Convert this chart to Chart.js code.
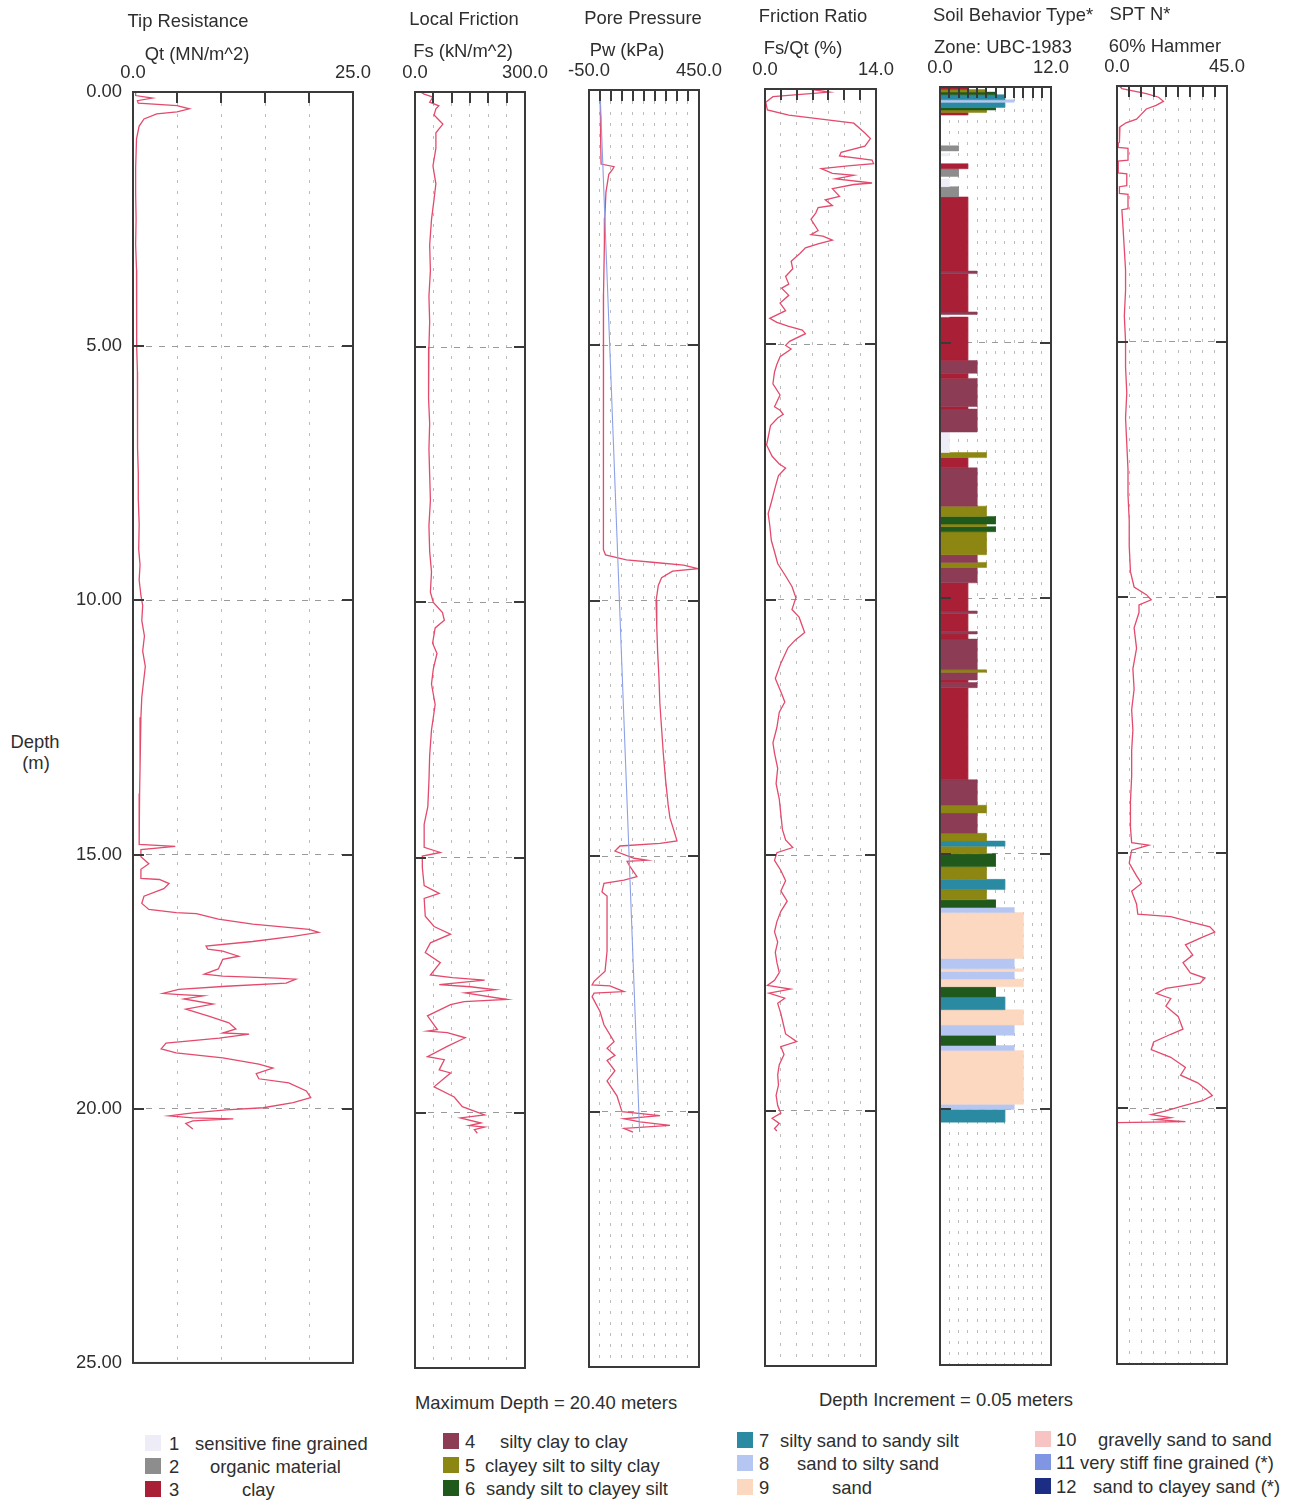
<!DOCTYPE html>
<html>
<head>
<meta charset="utf-8">
<script src="https://cdn.jsdelivr.net/npm/chart.js@4.4.1/dist/chart.umd.min.js"></script>
<style>
  html, body { margin: 0; padding: 0; background: #ffffff; }
  body { width: 1291px; height: 1502px; position: relative; overflow: hidden;
         font-family: "Liberation Sans", Arial, Helvetica, sans-serif; color: #2e2e2e; }
  canvas { position: absolute; top: 0; }
  .txt { position: absolute; white-space: nowrap; font-size: 18.4px; line-height: 21px; transform: translate(-50%, -50%); }
  .lft { position: absolute; white-space: nowrap; font-size: 18.4px; line-height: 21px; transform: translateY(-50%); }
  .sw  { position: absolute; width: 16px; height: 16px; transform: translateY(-50%); }
</style>
</head>
<body>
<script>
// ---------------- CPT sounding data (depth in metres) ----------------

// Tip resistance Qt (MN/m^2)
const qtDepth = [0.00,0.07,0.12,0.17,0.22,0.27,0.33,0.39,0.43,0.53,0.67,0.92,1.5,2.0,2.5,3.0,3.5,4.0,4.5,5.0,5.5,6.0,6.5,7.0,7.5,8.0,8.5,9.0,9.3,9.6,9.9,10.1,10.4,10.7,11.0,11.3,11.6,11.9,12.3,12.8,13.3,13.8,14.3,14.75,
  14.80,14.84,14.90,15.04,15.18,15.29,15.47,15.49,15.57,15.67,15.82,15.96,16.08,16.14,16.16,16.27,16.37,16.47,16.53,16.61,16.71,16.80,16.86,16.90,17.00,17.06,17.25,17.35,17.39,17.43,17.45,17.53,17.59,17.65,17.73,17.75,17.78,17.84,17.94,18.04,18.18,18.31,18.43,18.51,18.53,18.61,18.71,18.82,18.90,19.00,19.12,19.20,19.31,19.41,19.49,19.65,19.78,19.88,19.98,20.02,20.08,20.14,20.18,20.20,20.24,20.29,20.40];
const qtValue = [0.3,0.3,2.2,0.5,0.6,5.0,6.4,5.0,2.7,1.25,0.7,0.4,0.3,0.3,0.35,0.3,0.4,0.35,0.45,0.45,0.5,0.5,0.55,0.5,0.6,0.6,0.7,0.65,0.8,0.7,0.9,1.1,1.0,1.3,1.1,1.4,1.2,1.0,0.9,0.8,0.8,0.75,0.7,0.7,
  0.7,4.8,0.9,0.9,1.8,0.9,0.9,3.0,4.1,3.5,1.25,1.0,1.8,4.9,7.2,9.7,13.6,20.0,21.1,18.2,13.6,8.3,8.5,10.2,12.0,10.2,9.7,8.1,10.2,16.3,18.5,17.4,10.6,5.2,3.4,4.9,8.0,5.8,9.1,6.0,8.6,10.9,11.7,10.2,13.2,9.8,3.75,3.2,4.9,10.2,14.3,15.9,14.0,14.3,17.7,19.7,20.2,18.2,14.8,10.6,6.8,4.1,6.8,11.4,6.8,6.0,6.8];

// Local friction Fs (kN/m^2)
const fsDepth = [0.00,0.04,0.10,0.20,0.27,0.33,0.45,0.63,0.80,1.10,1.45,1.80,2.10,2.50,3.00,3.50,4.00,4.50,5.00,5.50,6.00,6.50,7.00,7.50,8.00,8.50,9.00,9.40,9.80,10.00,10.20,10.35,10.50,10.80,11.00,11.30,11.60,12.00,12.50,13.00,13.50,14.00,14.35,14.80,14.90,14.97,15.20,15.55,15.70,15.80,16.15,16.35,16.50,16.67,16.86,17.06,17.30,17.35,17.40,17.49,17.53,17.59,17.65,17.78,17.82,17.88,18.10,18.37,18.40,18.43,18.53,18.70,18.90,18.96,19.16,19.22,19.49,19.69,19.88,20.04,20.10,20.20,20.25,20.28,20.33,20.40];
const fsValue = [15,25,49,40,65,57,52,76,57,57,49,57,52,45,40,42,38,40,38,36,38,40,38,40,42,38,40,45,42,50,75,80,55,48,60,50,45,55,45,40,38,35,25,25,69,20,20,25,66,25,28,52,97,42,28,69,42,102,190,66,151,219,137,251,134,97,34,61,34,88,137,88,34,80,66,97,52,107,129,190,124,180,148,190,162,170];

// Pore pressure Pw (kPa) and hydrostatic line
const pwDepth = [0.00,0.50,1.00,1.45,1.50,1.55,1.65,2.00,2.50,3.00,4.00,5.00,6.00,7.00,8.00,9.00,9.10,9.20,9.25,9.30,9.37,9.42,9.55,9.70,10.00,10.50,11.00,11.50,12.00,12.50,13.00,13.50,14.00,14.25,14.50,14.70,14.75,14.80,14.90,15.04,15.08,15.10,15.20,15.40,15.47,15.53,15.70,15.78,16.20,16.86,17.25,17.45,17.52,17.54,17.65,17.68,17.75,18.04,18.30,18.63,18.76,18.90,19.00,19.20,19.40,19.69,20.00,20.08,20.14,20.20,20.27,20.33,20.40];
const pwValue = [0,2,3,5,64,58,40,27,22,20,16,15,14,15,16,18,25,120,250,380,445,330,280,265,255,258,262,268,272,280,288,298,310,318,336,350,273,91,68,155,214,123,136,168,109,18,9,32,32,32,23,-27,-36,45,109,-27,-36,0,18,64,32,68,32,68,32,77,100,273,109,182,318,109,150];
const u0Depth = [0.0, 20.4];
const u0Value = [0, 180];

// Friction ratio Fs/Qt (%)
const frDepth = [0.00,0.06,0.15,0.26,0.41,0.51,0.67,0.86,0.97,1.12,1.24,1.31,1.39,1.46,1.50,1.56,1.65,1.69,1.76,1.84,1.87,1.95,2.10,2.17,2.28,2.32,2.43,2.55,2.77,2.85,2.88,2.96,3.03,3.11,3.22,3.37,3.52,3.67,3.82,3.90,4.04,4.19,4.34,4.49,4.57,4.64,4.72,4.79,4.94,5.02,5.09,5.24,5.39,5.54,5.77,5.99,6.22,6.29,6.37,6.44,6.59,6.97,7.19,7.34,7.42,7.57,7.79,8.09,8.31,8.54,8.84,9.06,9.29,9.51,9.74,9.96,10.19,10.34,10.64,10.79,10.94,11.24,11.54,11.80,12.00,12.20,12.50,12.80,13.00,13.30,13.60,13.90,14.20,14.50,14.70,14.85,14.95,15.10,15.30,15.50,15.70,15.90,16.10,16.30,16.50,16.70,16.90,17.10,17.30,17.45,17.55,17.62,17.70,17.80,17.90,18.10,18.30,18.50,18.65,18.75,18.90,19.10,19.30,19.50,19.70,19.90,20.05,20.15,20.25,20.35,20.40];
const frValue = [5.5,8.1,1.0,0.1,0.3,3.0,11.2,12.6,13.3,12.6,9.6,9.4,13.5,13.7,10.8,7.1,8.5,11.2,8.9,13.5,11.2,8.5,9.4,7.6,8.5,6.7,6.4,5.8,6.7,5.8,7.3,8.5,6.7,5.1,4.4,3.3,3.5,2.6,3.0,2.1,3.0,1.9,2.6,0.6,1.5,2.9,4.7,5.1,3.1,2.6,3.3,1.9,1.5,1.2,1.0,1.9,1.2,1.9,2.3,1.6,0.7,0.2,0.9,1.8,2.6,1.7,1.3,0.8,0.4,0.6,0.8,1.2,1.6,2.5,3.4,3.9,3.4,4.3,5.0,3.8,2.9,2.0,1.3,2.0,2.5,1.8,1.5,1.0,1.2,1.6,1.4,1.8,2.0,2.2,2.6,3.5,1.5,1.2,2.0,2.6,2.0,2.8,2.0,1.5,1.2,1.6,1.3,1.5,1.8,1.2,0.3,3.2,0.5,2.5,1.6,2.0,2.3,2.6,4.0,2.0,2.4,1.8,1.6,1.7,1.4,1.6,2.0,0.9,1.8,1.2,1.5];

// SPT N (60% hammer)
const sptDepth = [0.00,0.05,0.15,0.22,0.30,0.38,0.45,0.55,0.65,0.72,0.80,1.00,1.10,1.12,1.20,1.22,1.45,1.47,1.70,1.72,1.95,1.97,2.10,2.12,2.40,2.42,2.80,3.20,3.60,4.00,4.50,5.00,5.50,6.00,6.50,7.00,7.50,8.00,8.50,9.00,9.50,9.80,9.95,10.05,10.15,10.30,10.60,11.00,11.40,11.80,12.20,12.60,13.00,13.50,14.00,14.50,14.80,14.85,14.95,15.20,15.45,15.60,15.75,16.00,16.20,16.25,16.35,16.45,16.55,16.65,16.80,17.00,17.15,17.35,17.45,17.55,17.65,17.75,17.85,18.00,18.20,18.45,18.55,18.70,18.85,19.00,19.20,19.35,19.50,19.65,19.75,19.85,19.95,20.05,20.12,20.18,20.22,20.26,20.28];
const sptValue = [1,2,12,17,19,16,12,10,8,3.7,1.2,1,1,0.5,0.5,4.5,4.5,0.5,0.5,4,4,1,1,4.5,4.5,2,2.5,3,3.5,3.5,3,3.5,3.5,4,3.5,4,4.5,4.5,5,5,5.5,7,12,14,9,9,7,8,6.5,7,6,6.5,6,6,5.5,5.5,6,13,6,5,8,10,6,8,8.5,22,30,38,40,35,28,31,27,30,36,34,20,16,22,20,25,27,22,15,14,22,28,26,33,37,39,35,27,20,14,22,16,28,0];

// Soil behaviour type layers (UBC-1983 zones)
const sbtTop    = [0.00,0.05,0.10,0.15,0.25,0.30,0.40,0.45,0.50,1.15,1.30,1.50,1.60,1.80,1.95,2.15,3.60,3.65,4.40,4.45,4.50,5.35,5.60,5.70,6.25,6.30,6.75,7.15,7.25,7.45,8.20,8.40,8.55,8.60,8.70,9.15,9.30,9.40,9.70,10.25,10.30,10.65,10.70,10.80,11.40,11.45,11.60,11.65,11.75,13.55,14.05,14.20,14.60,14.75,14.85,15.00,15.25,15.50,15.70,15.90,16.05,16.15,17.05,17.25,17.30,17.45,17.60,17.80,18.05,18.35,18.55,18.75,18.85,19.90,20.00];
const sbtBottom = [0.05,0.10,0.15,0.25,0.30,0.40,0.45,0.50,0.55,1.25,1.35,1.60,1.75,1.95,2.15,3.60,3.65,4.40,4.45,4.50,5.35,5.60,5.70,6.25,6.30,6.75,7.15,7.25,7.45,8.20,8.40,8.55,8.60,8.70,9.15,9.30,9.40,9.70,10.25,10.30,10.65,10.70,10.80,11.40,11.45,11.60,11.65,11.75,13.55,14.05,14.20,14.60,14.75,14.85,15.00,15.25,15.50,15.70,15.90,16.05,16.15,17.05,17.25,17.30,17.45,17.60,17.80,18.05,18.35,18.55,18.75,18.85,19.90,20.00,20.25];
const sbtZone   = [3,5,6,7,8,7,6,5,3,2,1,3,2,1,2,3,4,3,4,1,3,4,3,4,3,4,1,5,3,4,5,6,5,6,5,4,5,4,3,4,3,4,3,4,5,4,3,4,3,4,5,4,5,7,5,6,5,7,5,6,8,9,8,9,8,9,6,7,9,8,6,8,9,8,7];

const zoneNames = ['sensitive fine grained','organic material','clay','silty clay to clay','clayey silt to silty clay','sandy silt to clayey silt','silty sand to sandy silt','sand to silty sand','sand','gravelly sand to sand','very stiff fine grained (*)','sand to clayey sand (*)'];
const zoneColors = ['#eeecf7','#8d8d8d','#a91f36','#8c3d55','#8c8612','#1f5a1c','#2a8aa2','#b6c6f2','#fcd8c0','#f7c3c3','#8096e2','#1c2d84'];

// Column headers
const panelTitles = [
  ['Tip Resistance', 'Qt (MN/m^2)'],
  ['Local Friction', 'Fs (kN/m^2)'],
  ['Pore Pressure', 'Pw (kPa)'],
  ['Friction Ratio', 'Fs/Qt (%)'],
  ['Soil Behavior Type*', 'Zone: UBC-1983'],
  ['SPT N*', '60% Hammer']
];
const depthStep = 0.05;

// ---------------- drawing ----------------
const FONT = '"Liberation Sans", Arial, Helvetica, sans-serif';
const INK = '#2e2e2e';
const TRACE = 'rgb(228, 74, 108)';
const FONT_SIZE = 18.4;
Chart.defaults.font.family = FONT;

function toPoints(values, depths) {
  return depths.map((d, i) => ({ x: values[i], y: d }));
}
function traceSet(values, depths, color, width) {
  return { data: toPoints(values, depths), showLine: true, borderColor: color,
           borderWidth: width, pointRadius: 0, fill: false };
}

// box outline and short inward tick marks
const logFrame = {
  id: 'logFrame',
  afterDraw(chart) {
    const { ctx, chartArea: a } = chart;
    const xs = chart.scales.x, ys = chart.scales.y;
    ctx.save();
    ctx.strokeStyle = '#3a3a3a';
    ctx.lineWidth = 2;
    xs.ticks.forEach((t, i) => {
      if (i === 0 || i === xs.ticks.length - 1) return;
      const px = Math.round(xs.getPixelForValue(t.value));
      ctx.beginPath(); ctx.moveTo(px, a.top); ctx.lineTo(px, a.top + 11); ctx.stroke();
    });
    ys.ticks.forEach((t, i) => {
      if (i === 0 || i === ys.ticks.length - 1) return;
      const py = Math.round(ys.getPixelForValue(t.value));
      ctx.beginPath(); ctx.moveTo(a.left, py); ctx.lineTo(a.left + 11, py); ctx.stroke();
      ctx.beginPath(); ctx.moveTo(a.right - 11, py); ctx.lineTo(a.right, py); ctx.stroke();
    });
    ctx.strokeRect(a.left, a.top, a.right - a.left, a.bottom - a.top);
    ctx.restore();
  }
};

function logPanel(p) {
  const H = 1385, padR = 30;
  const padL = p.depthLabels ? 72 : 30;
  const w = p.right - p.left + padL + padR;
  const canvas = document.createElement('canvas');
  canvas.width = w; canvas.height = H;
  canvas.style.left = (p.left - padL) + 'px';
  canvas.style.width = w + 'px'; canvas.style.height = H + 'px';
  document.body.appendChild(canvas);
  new Chart(canvas, {
    type: 'scatter',
    data: { datasets: p.datasets },
    options: {
      responsive: false, animation: false, devicePixelRatio: 1,
      layout: { padding: { left: p.depthLabels ? 8 : padL, right: padR, top: p.top - 40, bottom: H - p.bottom } },
      plugins: { legend: { display: false }, tooltip: { enabled: false } },
      scales: {
        x: {
          type: 'linear', position: 'top', min: p.min, max: p.max, z: p.gridOver ? 1 : 0,
          afterFit: s => { s.height = 40; },
          ticks: { stepSize: p.step, autoSkip: false, maxRotation: 0, padding: 8, color: INK,
                   font: { family: FONT, size: FONT_SIZE },
                   callback: (v, i, arr) => (i === 0 || i === arr.length - 1) ? Number(v).toFixed(1) : '' },
          grid: { color: '#bdbdbd', lineWidth: 1, drawTicks: false },
          border: { display: false, dash: [3, 8] }
        },
        y: {
          type: 'linear', min: 0, max: 25, reverse: true,
          afterFit: s => { s.width = p.depthLabels ? 64 : 0; },
          ticks: { stepSize: 5, display: !!p.depthLabels, padding: 11, color: INK,
                   font: { family: FONT, size: FONT_SIZE }, callback: v => Number(v).toFixed(2) },
          grid: { color: '#9a9a9a', lineWidth: 1, drawTicks: false },
          border: { display: false, dash: [6, 7] }
        }
      }
    },
    plugins: [logFrame]
  });
}

const sbtSets = sbtZone.map((z, i) => ({
  data: [{ x: 0, y: sbtTop[i] }, { x: z, y: sbtTop[i] }, { x: z, y: sbtBottom[i] }, { x: 0, y: sbtBottom[i] }],
  showLine: true, fill: 'shape', backgroundColor: zoneColors[z - 1], borderColor: zoneColors[z - 1],
  borderWidth: 0.5, pointRadius: 0
}));

logPanel({ left: 133, right: 353, top: 92, bottom: 1369, min: 0, max: 25, step: 5, depthLabels: true,
           datasets: [traceSet(qtValue, qtDepth, TRACE, 1.3)] });
logPanel({ left: 415, right: 526, top: 92, bottom: 1368, min: 0, max: 300, step: 50,
           datasets: [traceSet(fsValue, fsDepth, TRACE, 1.3)] });
logPanel({ left: 589, right: 700, top: 90, bottom: 1367, min: -50, max: 450, step: 50,
           datasets: [traceSet(u0Value, u0Depth, 'rgb(140,160,232)', 1.1), traceSet(pwValue, pwDepth, TRACE, 1.3)] });
logPanel({ left: 765, right: 876, top: 89, bottom: 1366, min: 0, max: 14, step: 2,
           datasets: [traceSet(frValue, frDepth, TRACE, 1.3)] });
logPanel({ left: 940, right: 1051, top: 87, bottom: 1365, min: 0, max: 12, step: 1, gridOver: true,
           datasets: sbtSets });
logPanel({ left: 1117, right: 1227, top: 86, bottom: 1364, min: 0, max: 45, step: 5,
           datasets: [traceSet(sptValue, sptDepth, TRACE, 1.3)] });

// ---------------- text around the logs ----------------
function addText(cls, text, x, y) {
  const el = document.createElement('div');
  el.className = cls; el.textContent = text;
  el.style.left = x + 'px'; el.style.top = y + 'px';
  document.body.appendChild(el);
  return el;
}
const headerPos = [[[188, 20], [197, 53]], [[464, 18], [463, 50]], [[643, 17], [627, 49]],
                   [[813, 15], [803, 47]], [[1013, 14], [1003, 46]], [[1140, 13], [1165, 45]]];
panelTitles.forEach((lines, i) => lines.forEach((t, j) => addText('txt', t, headerPos[i][j][0], headerPos[i][j][1])));

addText('txt', 'Depth', 35, 741);
addText('txt', '(m)', 36, 762);

const maxDepth = Math.max(...qtDepth);
addText('txt', 'Maximum Depth = ' + maxDepth.toFixed(2) + ' meters', 546, 1402);
addText('txt', 'Depth Increment = ' + depthStep.toFixed(2) + ' meters', 946, 1399);

// zone legend, four columns of three
const legendCols = [
  { sw: 145, num: 169, rows: [1443, 1466, 1489] },
  { sw: 443, num: 465, rows: [1441, 1465, 1488] },
  { sw: 737, num: 759, rows: [1440, 1463, 1487] },
  { sw: 1035, num: 1056, rows: [1439, 1462, 1486] }
];
const legendTextLeft = [195, 210, 242, 500, 485, 486, 780, 797, 832, 1098, 1080, 1093];
zoneNames.forEach((name, i) => {
  const col = legendCols[Math.floor(i / 3)], y = col.rows[i % 3];
  const sw = document.createElement('div');
  sw.className = 'sw'; sw.style.left = col.sw + 'px'; sw.style.top = y + 'px';
  sw.style.background = zoneColors[i];
  document.body.appendChild(sw);
  addText('lft', String(i + 1), col.num, y);
  addText('lft', name, legendTextLeft[i], y);
});
</script>
</body>
</html>
